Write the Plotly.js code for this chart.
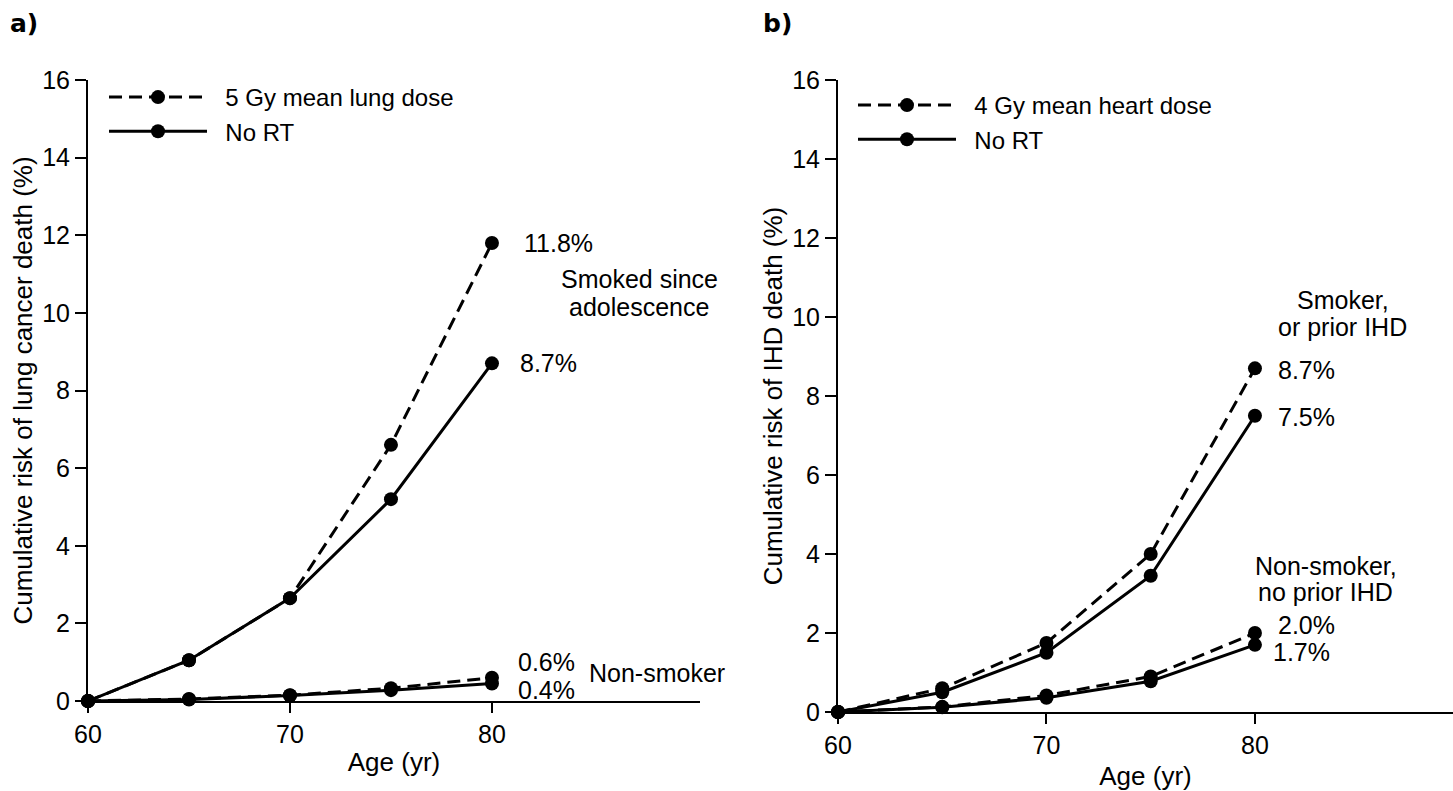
<!DOCTYPE html>
<html>
<head>
<meta charset="utf-8">
<script src="https://cdn.plot.ly/plotly-3.0.1.min.js"></script>
<style>html,body{margin:0;padding:0;background:#fff}#chart{width:1453px;height:791px}</style>
</head>
<body>
<div id="chart"></div>
<script>
// Ages (years)
const ages = [60, 65, 70, 75, 80];

// Panel a: cumulative risk of lung cancer death (%)
const lungSmokerRT   = [0, 1.05, 2.65, 6.6, 11.8];
const lungSmokerNoRT = [0, 1.05, 2.65, 5.2, 8.7];
const lungNonRT      = [0, 0.05, 0.15, 0.33, 0.6];
const lungNonNoRT    = [0, 0.04, 0.14, 0.28, 0.45];

// Panel b: cumulative risk of IHD death (%)
const ihdSmokerRT    = [0, 0.6, 1.75, 4.0, 8.7];
const ihdSmokerNoRT  = [0, 0.5, 1.5, 3.45, 7.5];
const ihdNonRT       = [0, 0.13, 0.42, 0.9, 2.0];
const ihdNonNoRT     = [0, 0.12, 0.36, 0.78, 1.7];

const legendA = ['5 Gy mean lung dose', 'No RT'];
const legendB = ['4 Gy mean heart dose', 'No RT'];
const yTicks = [0, 2, 4, 6, 8, 10, 12, 14, 16];
const xTicks = [60, 70, 80];

const FONT = 'Liberation Sans, Arial, sans-serif';
const DASH = '13px,7px';
const PAD = '\u00a0\u00a0';
const mk = {size: 14, color: '#000'};
function tr(y, xa, ya, dash, name, show, leg) {
  return {x: ages, y: y, xaxis: xa, yaxis: ya, mode: 'lines+markers',
    line: {color: '#000', width: 3, dash: dash}, marker: mk,
    name: PAD + name, showlegend: show, legend: leg, cliponaxis: false, hoverinfo: 'skip'};
}
const data = [
  tr(lungSmokerRT, 'x', 'y', DASH, legendA[0], true, 'legend'),
  tr(lungSmokerNoRT, 'x', 'y', 'solid', legendA[1], true, 'legend'),
  tr(lungNonRT, 'x', 'y', DASH, legendA[0], false, 'legend'),
  tr(lungNonNoRT, 'x', 'y', 'solid', legendA[1], false, 'legend'),
  tr(ihdSmokerRT, 'x2', 'y2', DASH, legendB[0], true, 'legend2'),
  tr(ihdSmokerNoRT, 'x2', 'y2', 'solid', legendB[1], true, 'legend2'),
  tr(ihdNonRT, 'x2', 'y2', DASH, legendB[0], false, 'legend2'),
  tr(ihdNonNoRT, 'x2', 'y2', 'solid', legendB[1], false, 'legend2')
];

const W = 1453, H = 791;
function xax(d0, d1, rmax, anchor, standoff) {
  return {domain: [d0, d1], range: [60, rmax], anchor: anchor,
    tickvals: xTicks, ticktext: xTicks.map(String),
    ticks: 'outside', ticklen: 10, tickwidth: 2, tickcolor: '#000',
    showline: true, linecolor: '#000', linewidth: 2, showgrid: false, zeroline: false,
    tickfont: {family: FONT, size: 25, color: '#000'},
    title: {text: 'Age (yr)', font: {family: FONT, size: 26, color: '#000'}, standoff: standoff},
    automargin: false, fixedrange: true};
}
function yax(d0, d1, anchor, title) {
  return {domain: [d0, d1], range: [0, 16], anchor: anchor,
    tickvals: yTicks, ticktext: yTicks.map(String),
    ticks: 'outside', ticklen: 11, tickwidth: 2, tickcolor: '#000',
    showline: true, linecolor: '#000', linewidth: 2, showgrid: false, zeroline: false,
    tickfont: {family: FONT, size: 25, color: '#000'},
    title: {text: title, font: {family: FONT, size: 26, color: '#000'}, standoff: 2},
    automargin: false, fixedrange: true};
}
const ann = (xr, yr, x, y, text, xanchor) => ({xref: xr, yref: yr, x: x, y: y, text: text,
  showarrow: false, xanchor: xanchor || 'left', yanchor: 'middle',
  font: {family: FONT, size: 25, color: '#000'}});
const panelLbl = (x, text) => ({xref: 'paper', yref: 'paper', x: x, y: (H - 24) / H, text: '<b>' + text + '</b>',
  showarrow: false, xanchor: 'left', yanchor: 'middle',
  font: {family: 'DejaVu Sans, sans-serif', size: 25, color: '#000'}});

const layout = {
  width: W, height: H,
  margin: {l: 0, r: 0, t: 0, b: 0},
  paper_bgcolor: '#fff', plot_bgcolor: 'rgba(0,0,0,0)',
  showlegend: true,
  xaxis: xax(88 / W, 700 / W, 90.3, 'y', 6),
  yaxis: yax((H - 701) / H, (H - 80) / H, 'x', 'Cumulative risk of lung cancer death (%)'),
  xaxis2: xax(838 / W, 1, 89.5, 'y2', 9),
  yaxis2: yax((H - 712) / H, (H - 80) / H, 'x2', 'Cumulative risk of IHD death (%)'),
  legend: {x: 104 / W, y: (H - 75) / H, xanchor: 'left', yanchor: 'top', bgcolor: 'rgba(0,0,0,0)',
    itemwidth: 98, font: {family: FONT, size: 24, color: '#000'}, traceorder: 'normal', tracegroupgap: 0},
  legend2: {x: 853 / W, y: (H - 83) / H, xanchor: 'left', yanchor: 'top', bgcolor: 'rgba(0,0,0,0)',
    itemwidth: 98, font: {family: FONT, size: 24, color: '#000'}, traceorder: 'normal', tracegroupgap: 0},
  annotations: [
    panelLbl(8 / W, 'a)'),
    panelLbl(761 / W, 'b)'),
    ann('x', 'y', 81.5, 11.8, '11.8%'),
    ann('x', 'y', 87.3, 10.87, 'Smoked since', 'center'),
    ann('x', 'y', 87.3, 10.15, 'adolescence', 'center'),
    ann('x', 'y', 81.3, 8.7, '8.7%'),
    ann('x', 'y', 81.2, 1.0, '0.6%'),
    ann('x', 'y', 84.7, 0.72, 'Non-smoker'),
    ann('x', 'y', 81.2, 0.28, '0.4%'),
    ann('x2', 'y2', 84.2, 10.43, 'Smoker,', 'center'),
    ann('x2', 'y2', 84.2, 9.75, 'or prior IHD', 'center'),
    ann('x2', 'y2', 81.0, 8.66, '8.7%'),
    ann('x2', 'y2', 81.0, 7.47, '7.5%'),
    ann('x2', 'y2', 83.4, 3.70, 'Non-smoker,', 'center'),
    ann('x2', 'y2', 83.4, 3.04, 'no prior IHD', 'center'),
    ann('x2', 'y2', 81.0, 2.2, '2.0%'),
    ann('x2', 'y2', 80.75, 1.52, '1.7%')
  ]
};
Plotly.newPlot('chart', data, layout, {displayModeBar: false, staticPlot: true});
</script>
</body>
</html>
